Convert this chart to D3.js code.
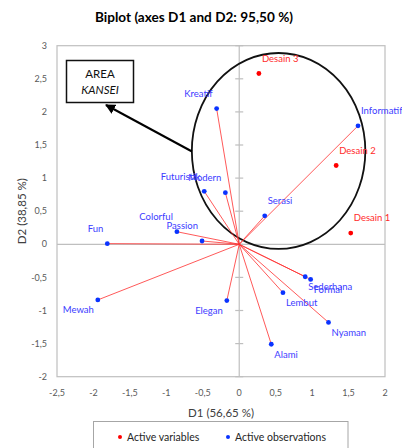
<!DOCTYPE html>
<html>
<head>
<meta charset="utf-8">
<script src="https://cdn.jsdelivr.net/npm/d3@7/dist/d3.min.js"></script>
<style>
  html, body { margin: 0; padding: 0; background: #fff; }
  svg { display: block; }
  text { font-family: Lato, "Liberation Sans", sans-serif; }
</style>
</head>
<body>
<svg id="chart" width="402" height="448"></svg>
<script>
// ---- data ----
const obsNames = ["Kreatif","Informatif","Serasi","Futuristik","Modern","Colorful","Passion","Fun","Mewah","Elegan","Sederhana","Formal","Lembut","Nyaman","Alami"];
const obsD1 = [-0.31, 1.63, 0.35, -0.48, -0.19, -0.855, -0.51, -1.81, -1.94, -0.17, 0.905, 0.98, 0.60, 1.225, 0.44];
const obsD2 = [2.05, 1.79, 0.43, 0.80, 0.78, 0.19, 0.05, 0.01, -0.84, -0.85, -0.49, -0.53, -0.73, -1.18, -1.51];
const varNames = ["Desain 1","Desain 2","Desain 3"];
const varD1 = [1.53, 1.33, 0.27];
const varD2 = [0.17, 1.19, 2.58];
const xTicks = [-2.5, -2, -1.5, -1, -0.5, 0, 0.5, 1, 1.5, 2];
const yTicks = [-2, -1.5, -1, -0.5, 0, 0.5, 1, 1.5, 2, 2.5, 3];
const titleText = "Biplot (axes D1 and D2: 95,50 %)";
const xTitle = "D1 (56,65 %)";
const yTitle = "D2 (38,85 %)";
const legendLabels = ["Active variables", "Active observations"];
// label placement (layout only)
const obsPlace = ["nw","ne","ne","nw","nw","nw","nw","nw","sw","sw","se","se","se","se","se"];
const varPlace = ["ne","ne","ne"];
// annotation (in data units)
const ellipse = {cx: 0.54, cy: 1.41, rx: 1.19, ry: 1.48};

// ---- layout ----
const svg = d3.select("#chart");
const x = d3.scaleLinear().domain([-2.5, 2]).range([57, 385]);
const y = d3.scaleLinear().domain([-2, 3]).range([376.7, 45.7]);
const fmt = v => (v + "").replace(".", ",");
const gray = "#bfbfbf";
const tickCol = "#595959";
const blue = "#0a33ff";
const blueTxt = "#3c3cff";
const red = "#ff0000";

// title
svg.append("text").attr("x", 194).attr("y", 22).attr("text-anchor", "middle")
  .attr("font-family", "'Liberation Sans', Arial, sans-serif")
  .attr("font-weight", "bold").attr("font-size", 13)
  .attr("textLength", 198).attr("lengthAdjust", "spacingAndGlyphs")
  .attr("fill", "#000").text(titleText);

// frame
svg.append("rect").attr("x", x(-2.5)).attr("y", y(3))
  .attr("width", x(2) - x(-2.5)).attr("height", y(-2) - y(3))
  .attr("fill", "none").attr("stroke", gray).attr("stroke-width", 1.2);

// zero lines
svg.append("line").attr("x1", x(-2.5)).attr("x2", x(2)).attr("y1", y(0)).attr("y2", y(0))
  .attr("stroke", gray).attr("stroke-width", 1.2);
svg.append("line").attr("x1", x(0)).attr("x2", x(0)).attr("y1", y(3)).attr("y2", y(-2))
  .attr("stroke", gray).attr("stroke-width", 1.2);

// y ticks on zero line
svg.append("g").selectAll("line").data(yTicks).join("line")
  .attr("x1", x(0) - 4).attr("x2", x(0) + 4)
  .attr("y1", d => y(d)).attr("y2", d => y(d))
  .attr("stroke", gray).attr("stroke-width", 1.2);

// tick labels
svg.append("g").selectAll("text").data(yTicks).join("text")
  .attr("x", 47).attr("y", d => y(d)).attr("dy", "0.35em")
  .attr("text-anchor", "end").attr("font-size", 9).attr("fill", tickCol)
  .text(fmt);
svg.append("g").selectAll("text").data(xTicks).join("text")
  .attr("x", d => x(d)).attr("y", 393).attr("dy", "0.35em")
  .attr("text-anchor", "middle").attr("font-size", 9).attr("fill", tickCol)
  .text(fmt);

// axis titles
svg.append("text").attr("x", 221).attr("y", 413).attr("dy", "0.35em")
  .attr("text-anchor", "middle").attr("font-size", 11.5).attr("fill", "#404040").text(xTitle);
svg.append("text").attr("transform", `translate(22,${(y(3) + y(-2)) / 2}) rotate(-90)`)
  .attr("dy", "0.35em").attr("text-anchor", "middle").attr("font-size", 11.5)
  .attr("fill", "#404040").text(yTitle);

// ellipse annotation
svg.append("ellipse")
  .attr("cx", x(ellipse.cx)).attr("cy", y(ellipse.cy))
  .attr("rx", x(ellipse.rx) - x(0)).attr("ry", y(0) - y(ellipse.ry))
  .attr("fill", "none").attr("stroke", "#111").attr("stroke-width", 1.8);

// vectors
const obs = obsNames.map((n, i) => ({name: n, d1: obsD1[i], d2: obsD2[i], place: obsPlace[i]}));
const vars = varNames.map((n, i) => ({name: n, d1: varD1[i], d2: varD2[i], place: varPlace[i]}));

svg.append("g").selectAll("line").data(obs).join("line")
  .attr("x1", x(0)).attr("y1", y(0))
  .attr("x2", d => x(d.d1)).attr("y2", d => y(d.d2))
  .attr("stroke", "#ff3030").attr("stroke-opacity", 0.8).attr("stroke-width", 1);

// points
svg.append("g").selectAll("circle").data(obs).join("circle")
  .attr("cx", d => x(d.d1)).attr("cy", d => y(d.d2)).attr("r", 2.4).attr("fill", blue);
svg.append("g").selectAll("circle").data(vars).join("circle")
  .attr("cx", d => x(d.d1)).attr("cy", d => y(d.d2)).attr("r", 2.4).attr("fill", red);

function placeLabel(sel) {
  sel.attr("x", d => x(d.d1) + (d.place[1] === "e" ? 3 : -4))
    .attr("y", d => y(d.d2) + (d.place[0] === "n" ? -15 : 10))
    .attr("dy", "0.35em")
    .attr("text-anchor", d => d.place[1] === "e" ? "start" : "end")
    .attr("font-size", 9.5);
}
svg.append("g").selectAll("text").data(obs).join("text")
  .call(placeLabel).attr("fill", blueTxt).text(d => d.name);
svg.append("g").selectAll("text").data(vars).join("text")
  .call(placeLabel).attr("fill", "#ff2a2a").text(d => d.name);

// AREA KANSEI box and arrow
svg.append("defs").append("marker").attr("id", "arr")
  .attr("viewBox", "0 0 10 10").attr("refX", 9).attr("refY", 5)
  .attr("markerWidth", 5).attr("markerHeight", 5).attr("orient", "auto")
  .append("path").attr("d", "M0,0 L10,5 L0,10 Z").attr("fill", "#000");
svg.append("line").attr("x1", 192).attr("y1", 151.5).attr("x2", 106).attr("y2", 105)
  .attr("stroke", "#000").attr("stroke-width", 2).attr("marker-end", "url(#arr)");
svg.append("rect").attr("x", 66.5).attr("y", 60.5).attr("width", 67).attr("height", 42)
  .attr("fill", "#fff").attr("stroke", "#111").attr("stroke-width", 1.5);
svg.append("text").attr("x", 100).attr("y", 74).attr("dy", "0.35em").attr("text-anchor", "middle")
  .attr("font-family", "'Liberation Sans', Arial, sans-serif")
  .attr("font-size", 11.5).attr("fill", "#111").text("AREA");
svg.append("text").attr("x", 100).attr("y", 89.5).attr("dy", "0.35em").attr("text-anchor", "middle")
  .attr("font-family", "'Liberation Sans', Arial, sans-serif")
  .attr("font-size", 11.5).attr("font-style", "italic").attr("fill", "#111").text("KANSEI");

// legend
const lg = svg.append("g");
lg.append("rect").attr("x", 93.5).attr("y", 421.5).attr("width", 254.5).attr("height", 40)
  .attr("fill", "#fff").attr("stroke", "#a6a6a6").attr("stroke-width", 1);
const legX = [120, 228];
const legC = [red, blue];
legendLabels.forEach((t, i) => {
  lg.append("circle").attr("cx", legX[i]).attr("cy", 437).attr("r", 2).attr("fill", legC[i]);
  lg.append("text").attr("x", legX[i] + 7).attr("y", 437).attr("dy", "0.35em")
    .attr("font-size", 10.5).attr("fill", "#262626").text(t);
});
</script>
</body>
</html>
